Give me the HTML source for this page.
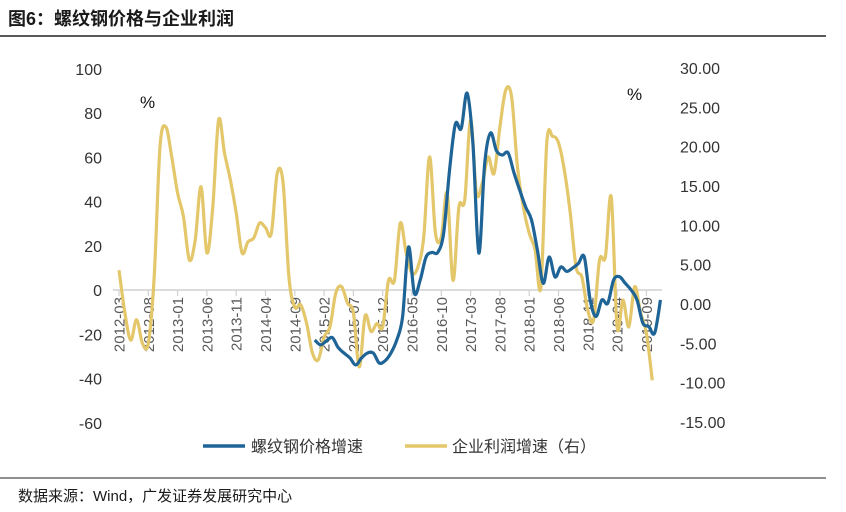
<!DOCTYPE html>
<html><head><meta charset="utf-8"><style>
body{margin:0;background:#fff;width:846px;height:512px;overflow:hidden;font-family:"Liberation Sans","Noto Sans CJK SC",sans-serif}
</style></head><body>
<svg width="846" height="512" style="position:absolute;left:0;top:0">
<text x="8" y="25" font-size="18" font-weight="bold" fill="#1a1a1a" font-family="Liberation Sans,Noto Sans CJK SC,sans-serif">图6：螺纹钢价格与企业利润</text>
<line x1="0" y1="36" x2="826" y2="36" stroke="#222" stroke-width="1.5"/>
<line x1="0" y1="478" x2="826" y2="478" stroke="#222" stroke-width="1"/>
<text x="18" y="501" font-size="15" fill="#1a1a1a" font-family="Liberation Sans,Noto Sans CJK SC,sans-serif">数据来源：Wind，广发证券发展研究中心</text>
<text x="140" y="108" font-size="17" fill="#111">%</text>
<text x="627" y="100" font-size="17" fill="#111">%</text>
<g id="axes"></g>
<g id="series"></g>
<g>
<line x1="203" y1="446" x2="245" y2="446" stroke="#1f6496" stroke-width="3.5"/>
<text x="251" y="452" font-size="16" fill="#333" font-family="Liberation Sans,Noto Sans CJK SC,sans-serif">螺纹钢价格增速</text>
<line x1="405" y1="446" x2="447" y2="446" stroke="#e3c76a" stroke-width="3.5"/>
<text x="452" y="452" font-size="16" fill="#333" font-family="Liberation Sans,Noto Sans CJK SC,sans-serif">企业利润增速（右）</text>
</g>
</svg>
<script>
const xLabels=["2012-03","2012-08","2013-01","2013-06","2013-11","2014-04","2014-09","2015-02","2015-07","2015-12","2016-05","2016-10","2017-03","2017-08","2018-01","2018-06","2018-11","2019-04","2019-09"];
const leftTicks=[100,80,60,40,20,0,-20,-40,-60];
const rightTicks=[30,25,20,15,10,5,0,-5,-10,-15];
const profitStart=0;
const profit=[4.3,-1.1,-4.6,-2.0,-5.0,-5.0,3.4,20,22.5,18.7,14.1,11.1,5.6,8.1,14.9,6.5,12.3,23.4,19.2,15.8,11.6,6.5,7.9,8.4,10.3,9.7,9.0,16.6,15.4,3.4,-0.4,-0.1,-2.4,-6.2,-7.1,-4.2,-2.9,1.4,2.2,0.1,-1.1,-8.0,-1.5,-3.5,-2.5,-2.9,3.0,3.0,10.3,6.5,3.9,4.7,8.5,18.7,9.0,8.5,14.1,3.0,12.3,13.2,23.4,14.1,15.4,18.7,16.6,22.5,27.2,26.3,17.4,12.3,9.0,6.9,2.2,20.5,21.3,20.5,17.0,11.6,4.7,3.4,-0.8,-2.0,5.6,6.0,13.6,-2.9,0.5,-2.9,2.2,-1.1,-3.7,-9.7];
const rebarStart=33.4;
const rebar=[-22.6,-24.8,-23,-21.5,-26,-28.5,-30.7,-33.9,-30.7,-28.5,-28.5,-33,-32,-28.5,-22.6,-12,19.4,-1.5,4.5,14.9,17,17,25.7,54,75,73,89,66,16.7,57,71,63,61,62,53,45,37.5,31.6,18,3,14.9,5.9,10.4,8.4,9.9,12,14.9,-4.5,-12,-4.5,-6,4.5,6,3,0,-4.5,-15,-16.5,-19.5,-4.5];
const NS="http://www.w3.org/2000/svg";
const X=i=>119+i*5.86;
const YL=v=>290-v*2.2125;
const YR=v=>304-v*7.867;
function mk(tag,attrs,parent){const e=document.createElementNS(NS,tag);for(const k in attrs)e.setAttribute(k,attrs[k]);parent.appendChild(e);return e;}
const axes=document.getElementById('axes');
const ser=document.getElementById('series');
const base=mk('line',{x1:113,y1:290,x2:662,y2:290,stroke:'#d0d0d0','stroke-width':1.5},axes);


xLabels.forEach((l,k)=>{const x=X(k*5);
 const t=mk('line',{x1:x,y1:290,x2:x,y2:296,stroke:'#d0d0d0','stroke-width':1.2},axes);
 
 
 const tx=mk('text',{x:0,y:0,'font-size':15,fill:'#595959','text-anchor':'end',transform:`translate(${x+5.5},297) rotate(-90)`},axes);
 tx.textContent=l;
 
 
});
leftTicks.forEach(v=>{const t=mk('text',{x:102,y:YL(v)+6,'font-size':16,fill:'#333','text-anchor':'end'},axes);t.textContent=v;
 
 });
rightTicks.forEach(v=>{const t=mk('text',{x:680,y:YR(v)+6,'font-size':16,fill:'#333'},axes);t.textContent=v.toFixed(2);
 
 });
function smooth(pts){let d=`M${pts[0][0]},${pts[0][1]}`;for(let i=0;i<pts.length-1;i++){const p0=pts[i-1]||pts[i],p1=pts[i],p2=pts[i+1],p3=pts[i+2]||p2;
 d+=` C${p1[0]+(p2[0]-p0[0])/6},${p1[1]+(p2[1]-p0[1])/6} ${p2[0]-(p3[0]-p1[0])/6},${p2[1]-(p3[1]-p1[1])/6} ${p2[0]},${p2[1]}`;}return d;}
const py=mk('path',{d:smooth(profit.map((v,i)=>[X(profitStart+i),YR(v)])),fill:'none',stroke:'#e3c76a','stroke-width':3.2,'stroke-linejoin':'round'},ser);


const pb=mk('path',{d:smooth(rebar.map((v,i)=>[X(rebarStart+i),YL(v)])),fill:'none',stroke:'#1f6496','stroke-width':3.2,'stroke-linejoin':'round'},ser);


</script>
</body></html>
